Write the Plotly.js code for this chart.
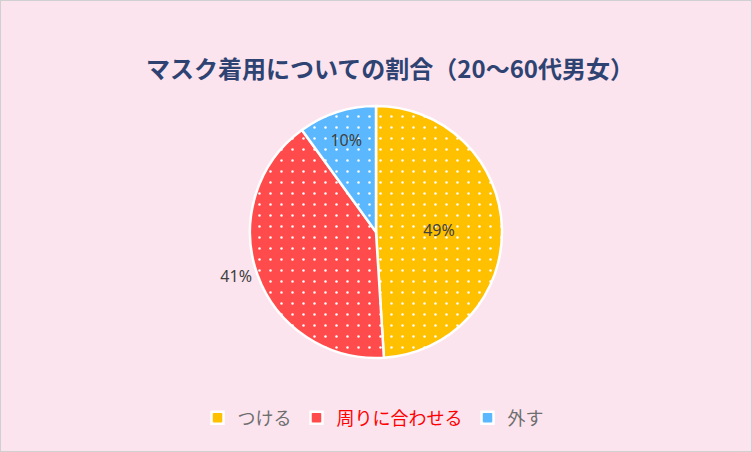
<!DOCTYPE html>
<html><head><meta charset="utf-8">
<script src="https://cdn.plot.ly/plotly-3.0.1.min.js"></script>
<style>body{margin:0;background:#fff}#chart{width:750px;height:450px;border:1px solid #D0D0D0}</style>
</head><body><div id="chart"></div>
<script>
const categories = ['つける', '周りに合わせる', '外す'];
const values = [49, 41, 10];
const colors = ['#FFC000', '#FF4B4B', '#5BB8FF'];
const legendColors = ['#6E6E6E', '#FF0000', '#6E6E6E'];
const textPositions = ['inside', 'outside', 'inside'];

const labels = categories.map((c, i) => `<span style="color:${legendColors[i]}">${c}</span>`);

const W = 750, H = 450, cx = 375, cy = 231, r = 126;
const trace = {
  type: 'pie',
  labels: labels,
  values: values,
  sort: false,
  direction: 'clockwise',
  rotation: 0,
  textinfo: 'percent',
  texttemplate: '%{percent:.0%}',
  textposition: textPositions,
  insidetextorientation: 'horizontal',
  textfont: {family: 'Noto Sans, sans-serif', size: 16, color: '#404040'},
  marker: {
    colors: colors,
    line: {color: '#FFFFFF', width: 2.5},
    pattern: {shape: '.', fgcolor: '#FFFFFF', bgcolor: colors, size: 11, solidity: 0.04}
  },
  domain: {x: [(cx - r) / W, (cx + r) / W], y: [1 - (cy + r) / H, 1 - (cy - r) / H]},
  hoverinfo: 'label+percent'
};

const layout = {
  width: W, height: H,
  paper_bgcolor: '#FCE4EF',
  plot_bgcolor: '#FCE4EF',
  margin: {l: 0, r: 0, t: 0, b: 0},
  title: {
    text: '<b>マスク着用についての割合（20～60代男女）</b>',
    font: {family: 'Noto Sans CJK JP, sans-serif', size: 24, color: '#2E4372'},
    x: 389 / W, xanchor: 'center', y: 1 - 69 / H, yanchor: 'middle'
  },
  showlegend: true,
  legend: {
    orientation: 'h', x: 372 / W, xanchor: 'center', y: 1 - 417 / H, yanchor: 'middle',
    font: {family: 'Noto Sans CJK JP, sans-serif', size: 18, color: '#6E6E6E'},
    itemwidth: 30, traceorder: 'normal', bgcolor: 'rgba(0,0,0,0)'
  }
};
Plotly.newPlot('chart', [trace], layout, {displayModeBar: false, staticPlot: true});
</script></body></html>
